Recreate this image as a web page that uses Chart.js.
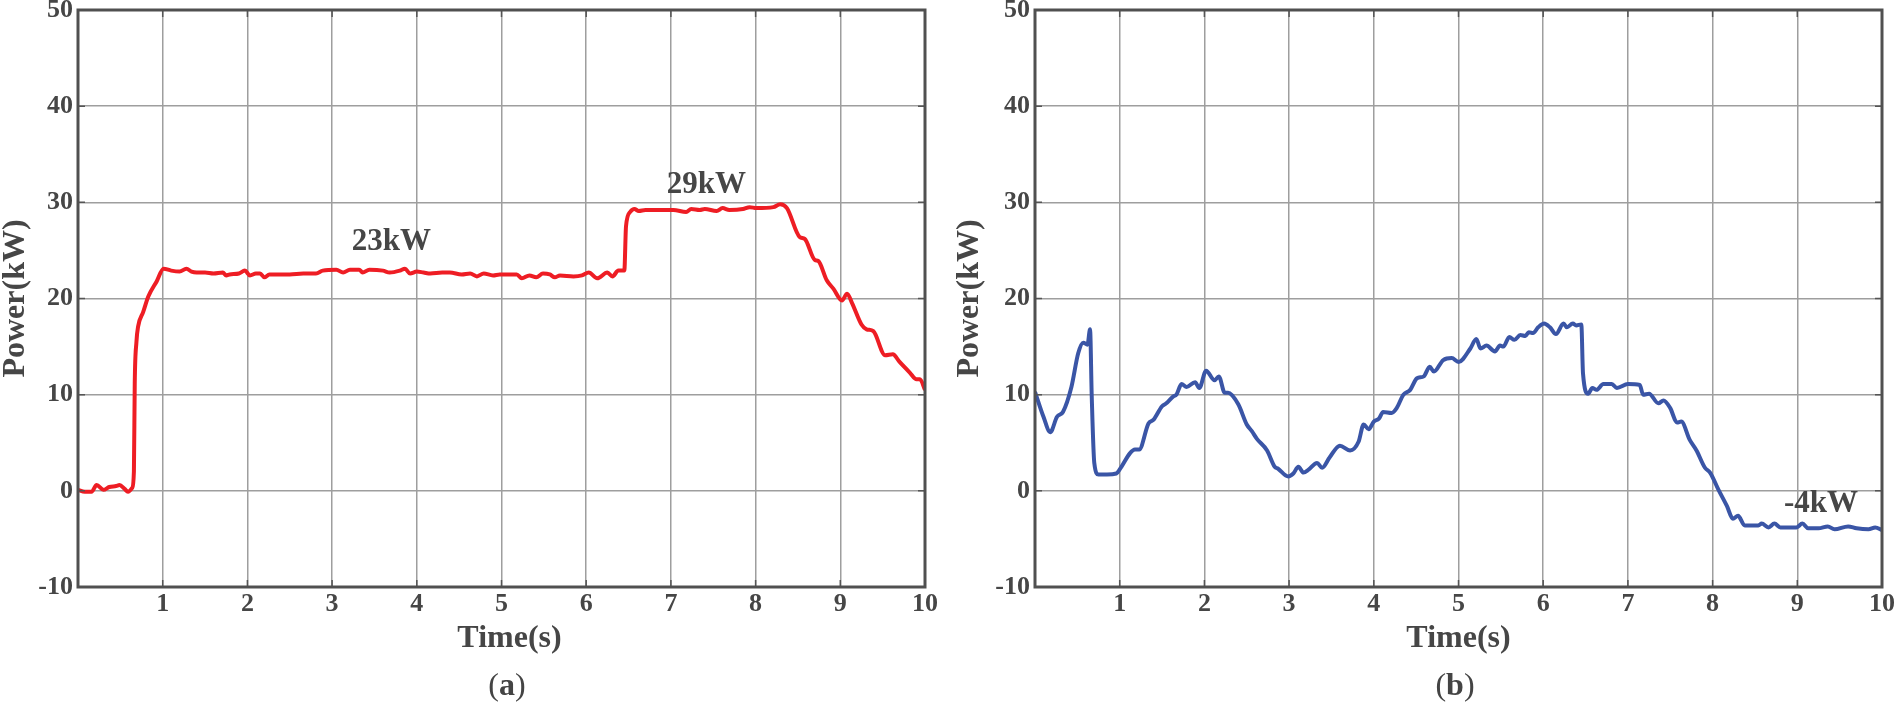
<!DOCTYPE html>
<html>
<head>
<meta charset="utf-8">
<script src="https://cdn.jsdelivr.net/npm/chart.js@4.4.1/dist/chart.umd.min.js"></script>
<style>
  html, body { margin: 0; padding: 0; background: #fff; }
  body { width: 1901px; height: 706px; position: relative; overflow: hidden; }
  canvas { position: absolute; top: 0; }
  #chartA { left: 0; }
  #chartB { left: 950px; }
  .caption {
    position: absolute;
    top: 668px;
    font: 32px/32px "Liberation Serif", "Times New Roman", serif;
    color: #444;
    transform: translateX(-50%);
    white-space: nowrap;
  }
  .caption b { font-weight: bold; }
</style>
</head>
<body>
<canvas id="chartA" width="950" height="706"></canvas>
<canvas id="chartB" width="951" height="706"></canvas>
<div class="caption" style="left:507px">(<b>a</b>)</div>
<div class="caption" style="left:1455px">(<b>b</b>)</div>
<script>
// Data: time (s) and power (kW)
const timeA = [0, 0.08, 0.16, 0.22, 0.30, 0.37, 0.45, 0.49, 0.55, 0.59, 0.64, 0.66, 0.67, 0.69, 0.71, 0.77,
  0.83, 0.93, 1.01, 1.10, 1.20, 1.28, 1.34, 1.40, 1.50, 1.60, 1.71, 1.75, 1.79, 1.90, 1.97, 2.03, 2.10,
  2.15, 2.20, 2.26, 2.40, 2.50, 2.66, 2.81, 2.89, 3.05, 3.13, 3.21, 3.32, 3.36, 3.44, 3.60, 3.68, 3.80,
  3.86, 3.92, 4.00, 4.08, 4.16, 4.30, 4.39, 4.53, 4.63, 4.71, 4.79, 4.90, 4.98, 5.18, 5.24, 5.33, 5.41,
  5.49, 5.57, 5.63, 5.69, 5.85, 5.95, 6.03, 6.13, 6.25, 6.31, 6.38, 6.45, 6.47, 6.52, 6.57, 6.62, 6.70,
  6.86, 7.03, 7.18, 7.24, 7.34, 7.40, 7.54, 7.61, 7.69, 7.85, 7.93, 8.01, 8.21, 8.29, 8.37, 8.52, 8.58,
  8.70, 8.74, 8.84, 8.92, 9.02, 9.08, 9.14, 9.25, 9.31, 9.39, 9.53, 9.62, 9.70, 9.82, 9.90, 9.94, 10.0];
const powerA = [0.1, -0.1, -0.1, 0.6, 0.1, 0.4, 0.5, 0.6, 0.2, -0.1, 0.3, 2.0, 11.2, 15.5, 17.1, 18.6,
  20.2, 21.8, 23.1, 22.9, 22.8, 23.1, 22.8, 22.7, 22.7, 22.6, 22.7, 22.4, 22.5, 22.6, 22.9, 22.4, 22.6,
  22.6, 22.2, 22.5, 22.5, 22.5, 22.6, 22.6, 22.9, 23.0, 22.7, 23.0, 23.0, 22.7, 23.0, 22.9, 22.7, 22.9,
  23.1, 22.6, 22.8, 22.7, 22.6, 22.7, 22.7, 22.5, 22.6, 22.3, 22.6, 22.4, 22.5, 22.5, 22.1, 22.4, 22.2,
  22.6, 22.5, 22.2, 22.4, 22.3, 22.4, 22.7, 22.1, 22.7, 22.3, 22.9, 22.9, 27.5, 29.0, 29.3, 29.1, 29.2,
  29.2, 29.2, 29.0, 29.3, 29.2, 29.3, 29.1, 29.4, 29.2, 29.3, 29.5, 29.4, 29.5, 29.8, 29.4, 26.4, 26.2,
  24.0, 23.9, 21.9, 21.0, 19.8, 20.5, 19.5, 17.3, 16.8, 16.6, 14.1, 14.2, 13.4, 12.3, 11.6, 11.6, 10.5];

const timeB = [0, 0.10, 0.18, 0.26, 0.33, 0.43, 0.51, 0.57, 0.62, 0.65, 0.67, 0.70, 0.75, 0.85, 0.96,
  1.02, 1.12, 1.18, 1.23, 1.34, 1.40, 1.50, 1.55, 1.63, 1.67, 1.73, 1.79, 1.89, 1.94, 2.02, 2.12, 2.17,
  2.24, 2.28, 2.40, 2.50, 2.56, 2.62, 2.74, 2.83, 2.87, 2.99, 3.05, 3.11, 3.17, 3.23, 3.33, 3.39, 3.48,
  3.60, 3.72, 3.82, 3.88, 3.94, 4.00, 4.06, 4.11, 4.21, 4.27, 4.35, 4.43, 4.51, 4.59, 4.66, 4.71, 4.82,
  4.92, 5.00, 5.14, 5.21, 5.26, 5.33, 5.43, 5.49, 5.53, 5.60, 5.66, 5.73, 5.79, 5.83, 5.88, 5.94, 6.01,
  6.08, 6.15, 6.24, 6.28, 6.35, 6.39, 6.45, 6.47, 6.53, 6.58, 6.63, 6.71, 6.81, 6.87, 7.00, 7.14, 7.18,
  7.25, 7.36, 7.42, 7.50, 7.58, 7.63, 7.73, 7.81, 7.91, 7.97, 8.07, 8.17, 8.24, 8.30, 8.38, 8.54, 8.58,
  8.66, 8.73, 8.80, 8.99, 9.06, 9.13, 9.25, 9.36, 9.44, 9.60, 9.70, 9.84, 9.92, 10.0];
const powerB = [10.3, 7.7, 6.1, 7.7, 8.2, 10.8, 14.3, 15.4, 15.2, 16.8, 9.8, 2.9, 1.7, 1.7, 1.8,
  2.5, 3.9, 4.3, 4.3, 7.0, 7.4, 8.8, 9.1, 9.8, 10.0, 11.1, 10.8, 11.3, 10.7, 12.5, 11.5, 11.9,
  10.2, 10.2, 9.0, 6.9, 6.2, 5.4, 4.2, 2.5, 2.3, 1.5, 1.8, 2.5, 1.9, 2.2, 2.9, 2.4, 3.5,
  4.7, 4.2, 5.1, 6.9, 6.4, 7.2, 7.5, 8.2, 8.1, 8.6, 10.0, 10.5, 11.7, 11.9, 12.9, 12.4, 13.6,
  13.8, 13.4, 14.8, 15.8, 14.8, 15.1, 14.5, 15.1, 15.0, 16.0, 15.7, 16.2, 16.1, 16.5, 16.4, 17.0, 17.4,
  17.0, 16.3, 17.4, 17.0, 17.4, 17.2, 17.3, 12.2, 10.1, 10.7, 10.5, 11.1, 11.1, 10.7, 11.1, 11.0, 10.0,
  10.1, 9.1, 9.4, 8.6, 7.1, 7.2, 5.3, 4.2, 2.4, 1.9, 0.1, -1.6, -2.9, -2.6, -3.6, -3.6, -3.4,
  -3.8, -3.4, -3.8, -3.8, -3.4, -3.9, -3.9, -3.7, -4.0, -3.7, -3.9, -4.0, -3.8, -4.1];

// Annotation labels (text, time, power at text baseline)
const notesA = [["23kW", 3.70, 25.0], ["29kW", 7.42, 31.0]];
const notesB = [["-4kW", 9.28, -2.2]];

const xTickLabels = ["", "1", "2", "3", "4", "5", "6", "7", "8", "9", "10"];

const TEXT = "#464646";
const FONT = '"Liberation Serif", "Times New Roman", serif';

function toPoints(xs, ys) {
  return xs.map((x, i) => ({ x: x, y: ys[i] }));
}

// Frame + inner tick marks
const framePlugin = {
  id: "frame",
  afterDatasetsDraw(chart) {
    const { ctx, chartArea: a, scales } = chart;
    ctx.save();
    ctx.strokeStyle = "#555";
    ctx.lineWidth = 1.5;
    const len = 7;
    scales.y.ticks.forEach((t) => {
      const py = scales.y.getPixelForValue(t.value);
      ctx.beginPath();
      ctx.moveTo(a.left, py); ctx.lineTo(a.left + len, py);
      ctx.moveTo(a.right, py); ctx.lineTo(a.right - len, py);
      ctx.stroke();
    });
    scales.x.ticks.forEach((t) => {
      const px = scales.x.getPixelForValue(t.value);
      ctx.beginPath();
      ctx.moveTo(px, a.bottom); ctx.lineTo(px, a.bottom - len);
      ctx.moveTo(px, a.top); ctx.lineTo(px, a.top + len);
      ctx.stroke();
    });
    ctx.lineWidth = 3;
    ctx.strokeStyle = "#505050";
    ctx.strokeRect(a.left, a.top, a.right - a.left, a.bottom - a.top);
    ctx.restore();
  },
};

// Text annotations placed through the scales
const notesPlugin = {
  id: "notes",
  afterDatasetsDraw(chart, args, opts) {
    const { ctx, scales } = chart;
    ctx.save();
    ctx.fillStyle = TEXT;
    ctx.font = "bold 31px " + FONT;
    ctx.textAlign = "center";
    ctx.textBaseline = "alphabetic";
    (opts.items || []).forEach(([text, x, y]) => {
      ctx.fillText(text, scales.x.getPixelForValue(x), scales.y.getPixelForValue(y));
    });
    ctx.restore();
  },
};

function makeChart(id, xs, ys, color, notes, yWidth, yTitlePad, padRight, xTitle) {
  return new Chart(document.getElementById(id), {
    type: "line",
    data: {
      datasets: [
        {
          data: toPoints(xs, ys),
          borderColor: color,
          borderWidth: 4,
          pointRadius: 0,
          cubicInterpolationMode: "monotone",
          fill: false,
        },
      ],
    },
    options: {
      responsive: false,
      animation: false,
      events: [],
      layout: { padding: { top: 10, right: padRight, bottom: 0, left: 0 } },
      plugins: {
        legend: { display: false },
        tooltip: { enabled: false },
        notes: { items: notes },
      },
      scales: {
        x: {
          type: "linear",
          min: 0,
          max: 10,
          border: { display: false },
          grid: { color: "#9e9e9e", lineWidth: 1.5, drawTicks: false },
          ticks: {
            stepSize: 1,
            padding: 2,
            color: TEXT,
            font: { family: FONT, size: 26, weight: "bold" },
            maxRotation: 0,
            autoSkip: false,
            callback: (v) => xTickLabels[v],
          },
          title: {
            display: true,
            text: xTitle,
            color: TEXT,
            font: { family: FONT, size: 32, weight: "bold", lineHeight: 1.2 },
            padding: { top: 0, bottom: 48 },
          },
          afterFit(scale) {
            scale.height = 119;
            scale.paddingLeft = 0;
            scale.paddingRight = 0;
          },
        },
        y: {
          min: -10,
          max: 50,
          border: { display: false },
          grid: { color: "#9e9e9e", lineWidth: 1.5, drawTicks: false },
          ticks: {
            stepSize: 10,
            padding: 5,
            color: TEXT,
            font: { family: FONT, size: 26, weight: "bold" },
          },
          title: {
            display: true,
            text: "Power(kW)",
            color: TEXT,
            font: { family: FONT, size: 32, weight: "bold", lineHeight: 1 },
            padding: { top: yTitlePad, bottom: 0 },
          },
          afterFit(scale) {
            scale.width = yWidth;
            scale.paddingTop = 0;
            scale.paddingBottom = 0;
          },
        },
      },
    },
    plugins: [framePlugin, notesPlugin],
  });
}

makeChart("chartA", timeA, powerA, "#ee1d24", notesA, 78, 0, 25, "\u2002Time(s)");
makeChart("chartB", timeB, powerB, "#3a55a6", notesB, 85, 4, 19, "Time(s)");
</script>
</body>
</html>
